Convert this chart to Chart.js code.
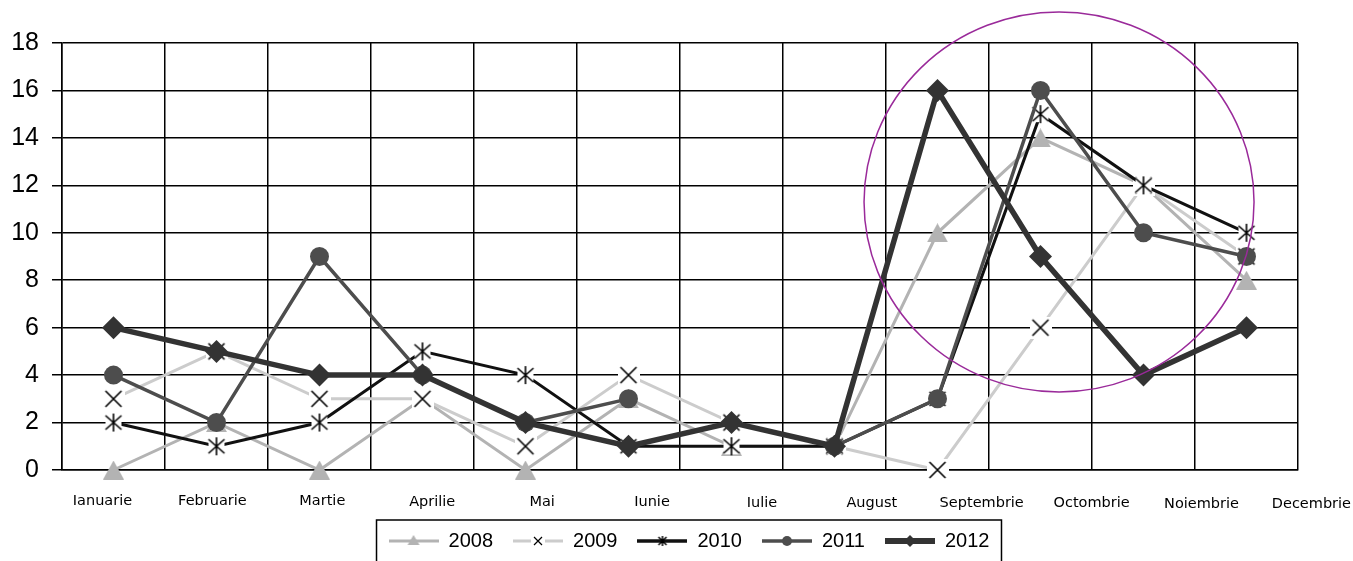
<!DOCTYPE html>
<html>
<head>
<meta charset="utf-8">
<script src="https://cdn.jsdelivr.net/npm/chart.js@4/dist/chart.umd.min.js"></script>
<style>
  html, body { margin: 0; padding: 0; background: #fff; }
  #wrap { width: 1353px; height: 561px; }
</style>
</head>
<body>
<div id="wrap"><canvas id="lunaChart"></canvas></div>
<script>
const luni = ['Ianuarie', 'Februarie', 'Martie', 'Aprilie', 'Mai', 'Iunie',
              'Iulie', 'August', 'Septembrie', 'Octombrie', 'Noiembrie', 'Decembrie'];
const ani = ['2008', '2009', '2010', '2011', '2012'];
const val2008 = [0, 2, 0, 3, 0, 3, 1, 1, 10, 14, 12, 8];
const val2009 = [3, 5, 3, 3, 1, 4, 2, 1, 0, 6, 12, 9];
const val2010 = [2, 1, 2, 5, 4, 1, 1, 1, 3, 15, 12, 10];
const val2011 = [4, 2, 9, 4, 2, 3, null, 1, 3, 16, 10, 9];
const val2012 = [6, 5, 4, 4, 2, 1, 2, 1, 16, 9, 4, 6];
const yTicks = [0, 2, 4, 6, 8, 10, 12, 14, 16, 18];

function marker(w, h, draw) {
    const c = document.createElement('canvas');
    c.width = w; c.height = h;
    draw(c.getContext('2d'), w / 2, h / 2);
    return c;
}

// grey triangle (2008), centred on its bounding box like Excel does
const triMark = marker(21, 19, function (g) {
    g.fillStyle = '#b3b3b3';
    g.beginPath();
    g.moveTo(10.5, 0); g.lineTo(21, 19); g.lineTo(0, 19);
    g.closePath();
    g.fill();
});

// x marker with white background (2009)
const xMark = marker(22, 22, function (g, m) {
    g.fillStyle = '#fff';
    g.fillRect(0, 0, 22, 22);
    g.strokeStyle = '#000';
    g.lineWidth = 1.6;
    g.beginPath();
    g.moveTo(m - 8, m - 8); g.lineTo(m + 8, m + 8);
    g.moveTo(m + 8, m - 8); g.lineTo(m - 8, m + 8);
    g.stroke();
});

// star marker with white background (2010)
const starMark = marker(20, 20, function (g, m) {
    g.fillStyle = '#fff';
    g.fillRect(2, 2, 16, 16);
    g.strokeStyle = '#000';
    g.lineWidth = 1.6;
    g.beginPath();
    g.moveTo(m - 8, m - 7); g.lineTo(m + 8, m + 7);
    g.moveTo(m + 8, m - 7); g.lineTo(m - 8, m + 7);
    g.moveTo(m, m - 9); g.lineTo(m, m + 9);
    g.stroke();
});

// legend samples: line + small marker
function sample(color, width, drawMark) {
    const c = document.createElement('canvas');
    c.width = 50; c.height = 20;
    const g = c.getContext('2d');
    g.strokeStyle = color;
    g.lineWidth = width;
    g.beginPath();
    g.moveTo(0, 10); g.lineTo(50, 10);
    g.stroke();
    drawMark(g, 25, 10);
    return c;
}

const legendSamples = [
    sample('#b3b3b3', 3, function (g, x, y) {
        g.fillStyle = '#b3b3b3';
        g.beginPath();
        g.moveTo(x, y - 6); g.lineTo(x + 6, y + 4); g.lineTo(x - 6, y + 4);
        g.closePath(); g.fill();
    }),
    sample('#cccccc', 3, function (g, x, y) {
        g.fillStyle = '#fff';
        g.fillRect(x - 7, y - 6, 14, 12);
        g.strokeStyle = '#000';
        g.lineWidth = 1.2;
        g.beginPath();
        g.moveTo(x - 4, y - 4); g.lineTo(x + 4, y + 4);
        g.moveTo(x + 4, y - 4); g.lineTo(x - 4, y + 4);
        g.stroke();
    }),
    sample('#111111', 3.5, function (g, x, y) {
        g.strokeStyle = '#000';
        g.lineWidth = 1.5;
        g.beginPath();
        g.moveTo(x - 4, y - 4); g.lineTo(x + 4, y + 4);
        g.moveTo(x + 4, y - 4); g.lineTo(x - 4, y + 4);
        g.moveTo(x, y - 5); g.lineTo(x, y + 5);
        g.stroke();
    }),
    sample('#4d4d4d', 3.5, function (g, x, y) {
        g.fillStyle = '#4d4d4d';
        g.beginPath();
        g.arc(x, y, 5, 0, Math.PI * 2);
        g.fill();
    }),
    sample('#333333', 6, function (g, x, y) {
        g.fillStyle = '#333333';
        g.beginPath();
        g.moveTo(x, y - 6); g.lineTo(x + 6, y); g.lineTo(x, y + 6); g.lineTo(x - 6, y);
        g.closePath(); g.fill();
    })
];

// month labels drift to the right like in the original picture
const monthLabels = {
    id: 'monthLabels',
    afterDraw(chart) {
        const xs = chart.scales.x;
        const ctx = chart.ctx;
        ctx.save();
        ctx.font = '14.5px "DejaVu Sans"';
        ctx.fillStyle = '#000';
        ctx.textAlign = 'center';
        ctx.textBaseline = 'middle';
        luni.forEach(function (l, i) {
            ctx.fillText(l, xs.getPixelForValue(i) + i * 6.9 - 11, 501 + i * 0.3);
        });
        ctx.restore();
    }
};

// purple circle around the autumn months
const ring = {
    id: 'ring',
    afterDatasetsDraw(chart) {
        const xs = chart.scales.x, ys = chart.scales.y;
        const ctx = chart.ctx;
        ctx.save();
        ctx.strokeStyle = '#9a2a9a';
        ctx.lineWidth = 1.5;
        ctx.beginPath();
        ctx.ellipse(xs.getPixelForValue(9.18), ys.getPixelForValue(11.3), 195, 190, 0, 0, Math.PI * 2);
        ctx.stroke();
        ctx.restore();
    }
};

// legend sits a little right of centre, with a frame
const legendShift = 9;
const legendBox = {
    id: 'legendBox',
    afterUpdate(chart) {
        const lg = chart.legend;
        if (!lg) return;
        lg.left += legendShift;
        lg.right += legendShift;
        lg.adjustHitBoxes();
    },
    afterDraw(chart) {
        const lg = chart.legend;
        if (!lg || !lg.legendHitBoxes.length) return;
        const hb = lg.legendHitBoxes;
        const left = hb[0].left - 12;
        const right = hb[hb.length - 1].left + hb[hb.length - 1].width + 12;
        const ctx = chart.ctx;
        ctx.save();
        ctx.strokeStyle = '#000';
        ctx.lineWidth = 1.5;
        ctx.strokeRect(left, lg.top + 9, right - left, 60);
        ctx.restore();
    }
};

const ctx = document.getElementById('lunaChart').getContext('2d');

const lunaChart = new Chart(ctx, {
    type: 'line',
    data: {
        labels: luni,
        datasets: [
            {
                label: ani[0], data: val2008, order: 4, clip: false,
                borderColor: '#b3b3b3', backgroundColor: '#b3b3b3', borderWidth: 3,
                pointStyle: triMark, pointRadius: 10
            },
            {
                label: ani[1], data: val2009, order: 3, clip: false,
                borderColor: '#cccccc', backgroundColor: '#cccccc', borderWidth: 3,
                pointStyle: xMark, pointRadius: 8
            },
            {
                label: ani[2], data: val2010, order: 2, clip: false,
                borderColor: '#111111', backgroundColor: '#111111', borderWidth: 3,
                pointStyle: starMark, pointRadius: 8
            },
            {
                label: ani[3], data: val2011, order: 1, clip: false,
                borderColor: '#4d4d4d', backgroundColor: '#4d4d4d', borderWidth: 3.5,
                pointStyle: 'circle', pointRadius: 9.5, pointBorderWidth: 0
            },
            {
                label: ani[4], data: val2012, order: 0, clip: false,
                borderColor: '#333333', backgroundColor: '#333333', borderWidth: 5.5,
                pointStyle: 'rectRot', pointRadius: 11.5, pointBorderWidth: 0
            }
        ]
    },
    options: {
        responsive: true,
        maintainAspectRatio: false,
        animation: false,
        spanGaps: false,
        layout: {
            padding: { top: 43, right: 55, left: 0, bottom: 0 }
        },
        scales: {
            x: {
                offset: true,
                grid: { color: '#000', lineWidth: 1.5, offset: true, drawTicks: false },
                border: { color: '#000', width: 1.5 },
                ticks: { display: false },
                afterFit: function (s) { s.height = 41; }
            },
            y: {
                min: 0,
                max: 18,
                afterBuildTicks: function (s) { s.ticks = yTicks.map(v => ({ value: v })); },
                grid: { color: '#000', lineWidth: 1.5, tickLength: 10 },
                border: { color: '#000', width: 1.5 },
                ticks: {
                    color: '#000',
                    padding: 13,
                    font: { family: '"Liberation Sans", Arial', size: 25 }
                },
                afterFit: function (s) { s.width = 62; }
            }
        },
        plugins: {
            tooltip: { enabled: false },
            legend: {
                position: 'bottom',
                fullSize: false,
                labels: {
                    usePointStyle: true,
                    pointStyleWidth: 50,
                    padding: 20,
                    color: '#000',
                    font: { family: '"Liberation Sans", Arial', size: 20 },
                    generateLabels: function (chart) {
                        return chart.data.datasets.map(function (ds, i) {
                            return {
                                text: ds.label,
                                pointStyle: legendSamples[i],
                                fillStyle: ds.borderColor,
                                strokeStyle: ds.borderColor,
                                lineWidth: 0,
                                hidden: false,
                                datasetIndex: i
                            };
                        });
                    }
                }
            }
        }
    },
    plugins: [monthLabels, ring, legendBox]
});
</script>
</body>
</html>
